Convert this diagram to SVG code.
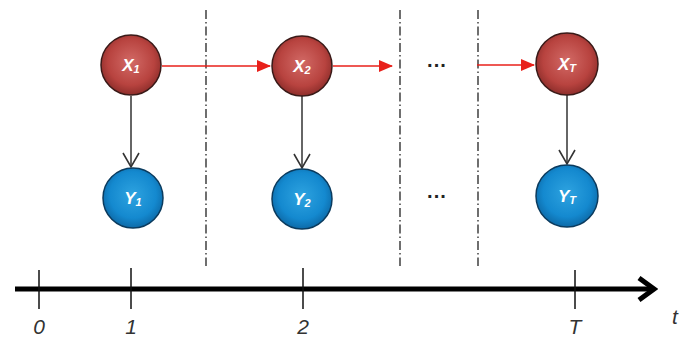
<svg xmlns="http://www.w3.org/2000/svg" width="680" height="340" viewBox="0 0 680 340">
<defs>
<radialGradient id="gx" cx="50%" cy="45%" r="55%">
<stop offset="0" stop-color="#d26a66"/>
<stop offset="0.7" stop-color="#b8433f"/>
<stop offset="1" stop-color="#8e2e2b"/>
</radialGradient>
<radialGradient id="gy" cx="50%" cy="45%" r="55%">
<stop offset="0" stop-color="#2ea3e0"/>
<stop offset="0.7" stop-color="#1489cf"/>
<stop offset="1" stop-color="#0d6aa8"/>
</radialGradient>
<marker id="ab" markerWidth="20" markerHeight="20" refX="10" refY="18" orient="0" markerUnits="userSpaceOnUse">
<path d="M2,4 L10,18 L18,4" fill="none" stroke="#333" stroke-width="1.6"/>
</marker>
<marker id="ar" markerWidth="14" markerHeight="12" refX="13" refY="6" orient="auto" markerUnits="userSpaceOnUse">
<path d="M0,0 L14,6 L0,12 Z" fill="#e8201a"/>
</marker>
<marker id="ax" markerWidth="22" markerHeight="26" refX="18" refY="13" orient="auto" markerUnits="userSpaceOnUse">
<path d="M3,2 L18,13 L3,24" fill="none" stroke="#000" stroke-width="5"/>
</marker>
<style>
.nx{fill:url(#gx);stroke:#3a1a18;stroke-width:1.5}
.ny{fill:url(#gy);stroke:#0b3b5e;stroke-width:1.5}
.lb{font-family:"Liberation Sans",Arial,sans-serif;font-size:17px;font-weight:bold;font-style:italic;fill:#fff}
.sb{font-size:11px}
.dl{stroke:#222;stroke-width:1.3;stroke-dasharray:9,3,1.5,3;fill:none}
.eb{stroke:#333;stroke-width:1.5;fill:none}
.er{stroke:#e8201a;stroke-width:1.5;fill:none}
.tk{stroke:#111;stroke-width:1.5}
.tl{font-family:"Liberation Sans",Arial,sans-serif;font-size:21px;font-style:italic;fill:#333;text-anchor:middle}
.dots{font-family:"Liberation Sans",Arial,sans-serif;font-size:20px;font-weight:bold;fill:#222;text-anchor:middle}
</style>
</defs>
<g id="separators">
<line class="dl" x1="206" y1="10" x2="206" y2="266"/>
<line class="dl" x1="400" y1="10" x2="400" y2="266"/>
<line class="dl" x1="478" y1="10" x2="478" y2="266"/>
</g>
<g id="connectors">
<line class="eb" x1="131" y1="96" x2="131" y2="167" marker-end="url(#ab)"/>
<line class="eb" x1="302" y1="96" x2="302" y2="168" marker-end="url(#ab)"/>
<line class="eb" x1="567" y1="95" x2="567" y2="164" marker-end="url(#ab)"/>
<line class="er" x1="162" y1="66" x2="270" y2="66" marker-end="url(#ar)"/>
<line class="er" x1="333" y1="66" x2="392" y2="66" marker-end="url(#ar)"/>
<line class="er" x1="477" y1="65" x2="534" y2="65" marker-end="url(#ar)"/>
</g>
<g id="X1"><circle class="nx" cx="131" cy="65" r="30"/><text class="lb" x="131" y="71" text-anchor="middle">X<tspan class="sb" dy="2">1</tspan></text></g>
<g id="X2"><circle class="nx" cx="302" cy="66" r="30"/><text class="lb" x="302" y="72" text-anchor="middle">X<tspan class="sb" dy="2">2</tspan></text></g>
<g id="XT"><circle class="nx" cx="567" cy="64" r="31"/><text class="lb" x="567" y="70" text-anchor="middle">X<tspan class="sb" dy="2">T</tspan></text></g>
<g id="Y1"><circle class="ny" cx="133" cy="198" r="30"/><text class="lb" x="133" y="204" text-anchor="middle">Y<tspan class="sb" dy="2">1</tspan></text></g>
<g id="Y2"><circle class="ny" cx="302" cy="199" r="30"/><text class="lb" x="302" y="205" text-anchor="middle">Y<tspan class="sb" dy="2">2</tspan></text></g>
<g id="YT"><circle class="ny" cx="567" cy="196" r="31"/><text class="lb" x="567" y="202" text-anchor="middle">Y<tspan class="sb" dy="2">T</tspan></text></g>
<g id="dots1"><text class="dots" x="437" y="72">···</text></g>
<g id="dots2"><text class="dots" x="437" y="203">···</text></g>
<g id="axis">
<line x1="15" y1="289" x2="654" y2="289" stroke="#000" stroke-width="5" marker-end="url(#ax)"/>
<line class="tk" x1="39" y1="270" x2="39" y2="309"/>
<line class="tk" x1="131" y1="268" x2="131" y2="309"/>
<line class="tk" x1="303" y1="268" x2="303" y2="309"/>
<line class="tk" x1="575" y1="270" x2="575" y2="309"/>
<text class="tl" x="39" y="334">0</text>
<text class="tl" x="131" y="334">1</text>
<text class="tl" x="303" y="334">2</text>
<text class="tl" x="575" y="334">T</text>
<text class="tl" x="672" y="324" text-anchor="start" style="text-anchor:start">t</text>
</g>
</svg>
